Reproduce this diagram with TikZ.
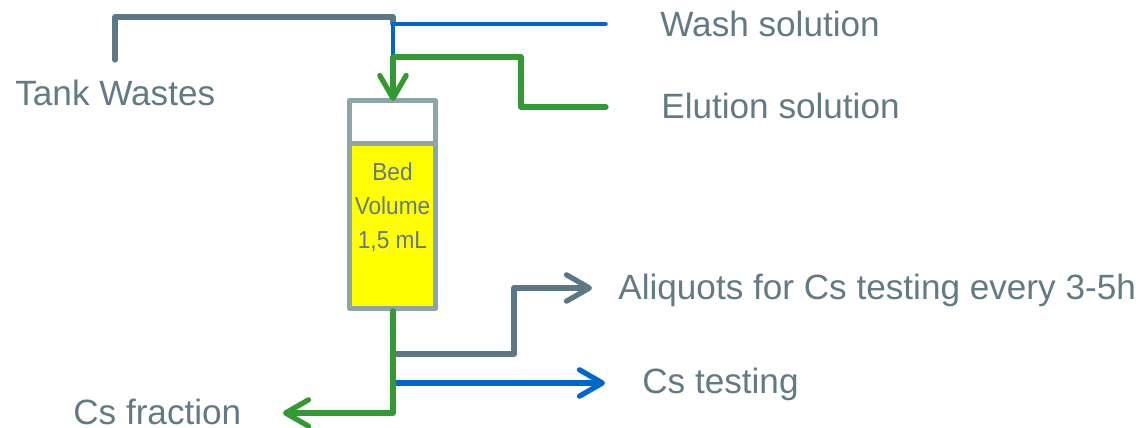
\documentclass[tikz,border=0pt]{standalone}
\usepackage{fontspec}
\setmainfont{Liberation Sans}
\usepackage{tikz}
\usetikzlibrary{arrows.meta}
\definecolor{slate}{RGB}{91, 120, 132}
\definecolor{label}{RGB}{98, 122, 132}
\definecolor{rim}{RGB}{142, 165, 168}
\definecolor{wash}{RGB}{0, 102, 204}
\definecolor{elute}{RGB}{51, 153, 51}
\definecolor{resin}{RGB}{255, 255, 0}
\tikzset{
  pipe/.style={line join=round, line cap=round},
  barb/.style={-{Straight Barb[length=13pt, width=15pt, line cap=round, round]}},
  lbl/.style={anchor=base west, inner sep=0, text=label, font=\fontsize{20}{24}\selectfont},
  vessel/.style={draw=rim, line width=2.6pt, line join=round, minimum width=49pt, inner sep=0}
}

\begin{document}
\begin{tikzpicture}[x=0.02cm, y=-0.02cm]
  \useasboundingbox (0, 0) rectangle (1136, 428);

  % column
  \node[vessel, minimum height=25.5pt, fill=white] (head) at (392.5, 123) {};
  \node[vessel, minimum height=94pt, fill=resin] (bed) at (392.5, 226) {};
  \node[inner sep=0, align=center, text=label, xscale=0.92, transform shape,
    font=\fontsize{14}{19.5}\selectfont] (bedtext) at (392.5, 207) {Bed\\Volume\\1,5 mL};

  % labels
  \node[lbl] (tank) at (15, 106) {Tank Wastes};
  \node[lbl] (washsol) at (660, 37) {Wash solution};
  \node[lbl] (elution) at (661, 119) {Elution solution};
  \node[lbl] (aliquots) at (618, 300) {Aliquots for Cs testing every 3-5h};
  \node[lbl] (cstest) at (642, 394) {Cs testing};
  \node[lbl] (csfrac) at (73, 425) {Cs fraction};

  % free ends and junctions
  \coordinate (feed) at (115, 60);
  \coordinate (washend) at (606, 24);
  \coordinate (eluend) at (606, 107);
  \coordinate (joinw) at (393, 24);
  \coordinate (joine) at (393, 57);
  \coordinate (gray) at (393, 354);
  \coordinate (blue) at (393, 383);
  \coordinate (outa) at (592, 288);
  \coordinate (outb) at (605, 383);
  \coordinate (outc) at (283, 413);

  % inlet lines
  \draw[pipe, slate, line width=3pt] (feed) -- (115, 17) -- (393, 17) -- (joinw);
  \draw[pipe, wash, line width=2pt] (washend) -- (joinw) -- (joine);
  \draw[pipe, elute, line width=3pt] (eluend) -- (521, 107) -- (521, 57) -- (joine);
  \draw[pipe, barb, elute, line width=3pt] (joine) -- (393, 101);

  % outlet lines
  \draw[pipe, barb, slate, line width=3pt] (gray) -- (514, 354) -- (514, 288) -- (outa);
  \draw[pipe, barb, wash, line width=3pt] (blue) -- (outb);
  \draw[pipe, barb, elute, line width=3pt] (bed.south -| joine) -- (393, 413) -- (outc);
\end{tikzpicture}
\end{document}
